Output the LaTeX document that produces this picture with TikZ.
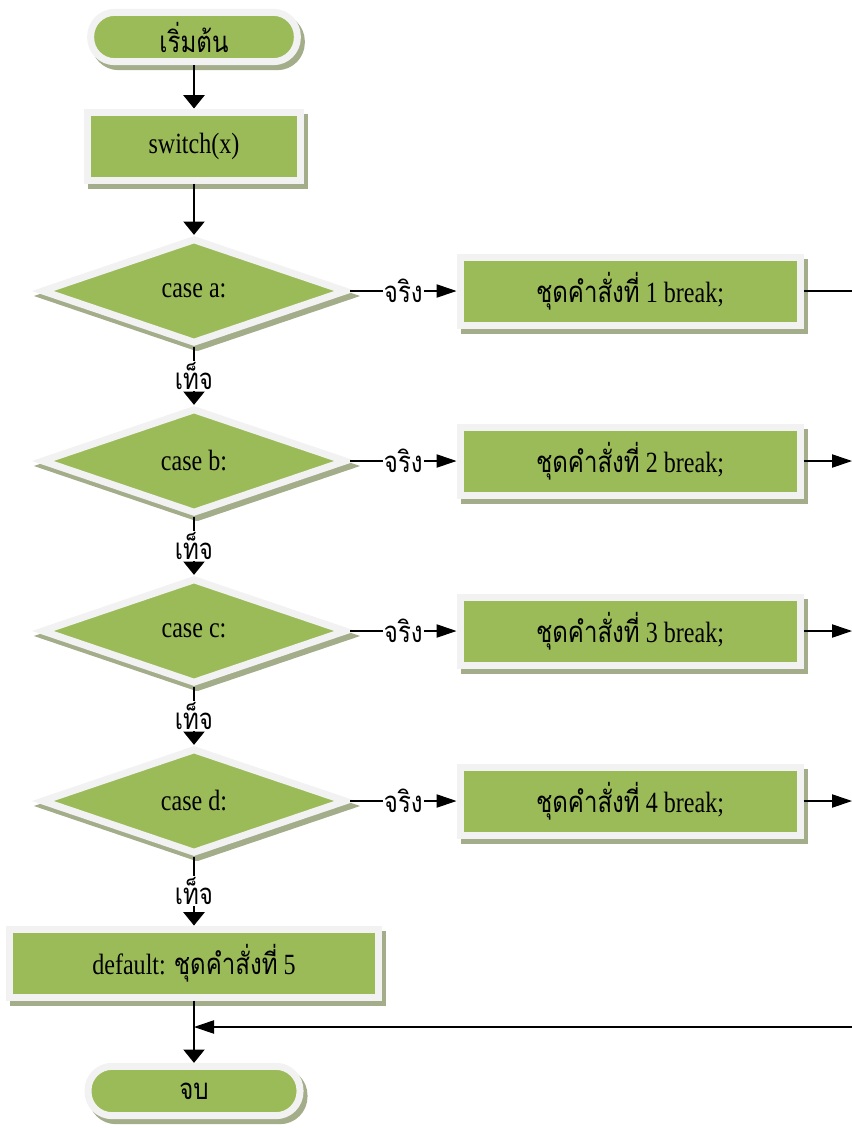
\documentclass[tikz,border=0pt]{standalone}
\usepackage{fontspec}
\setmainfont{Liberation Serif}[FakeStretch=0.82]
\newfontfamily\thaifont[Script=Thai,FakeStretch=0.82]{Loma}
\newcommand{\thtxt}[1]{{\thaifont #1}}
\usetikzlibrary{shapes.geometric, arrows.meta, shadows}
\definecolor{boxgreen}{RGB}{155,187,89}
\definecolor{rimgray}{RGB}{242,242,242}
\definecolor{shadegreen}{RGB}{163,173,138}

\begin{document}
\begin{tikzpicture}[
    x=0.75pt, y=-0.75pt,
    base/.style={draw=rimgray, line width=5.25pt, fill=boxgreen, inner sep=0pt,
      font=\fontsize{22}{24}\selectfont,
      drop shadow={shadow xshift=3pt, shadow yshift=-3.75pt, draw=shadegreen,
        fill=shadegreen, opacity=1, line width=5.25pt}},
    term/.style={base, rectangle, rounded corners=18pt, minimum height=37pt},
    proc/.style={base, rectangle, minimum height=51pt},
    cond/.style={base, diamond, minimum width=229pt, minimum height=79pt,
      drop shadow={shadow xshift=1.5pt, shadow yshift=-3.75pt, draw=shadegreen,
        fill=shadegreen, opacity=1, line width=5.25pt}},
    vline/.style={draw, line width=0.8pt, -{Triangle[width=16pt,length=10pt]}},
    hline/.style={draw, line width=0.8pt, -{Triangle[width=10pt,length=15pt]}},
    lbl/.style={fill=white, inner sep=1pt, font=\fontsize{22}{24}\selectfont}
  ]
  \useasboundingbox (0,0) rectangle (852,1128);

  \node[term, minimum width=155pt] (start) at (194,37) {\thtxt{เริ่มต้น}};
  \node[proc, minimum width=160pt] (sw) at (194,146) {switch(x)};

  \node[cond] (ca) at (194,291) {case a:};
  \node[cond] (cb) at (194,461) {case b:};
  \node[cond] (cc) at (194,631) {case c:};
  \node[cond] (cd) at (194,801) {case d:};

  \node[proc, minimum width=255pt] (s1) at (630,291) {\thtxt{ชุดคำสั่งที่} 1 break;};
  \node[proc, minimum width=255pt] (s2) at (630,461) {\thtxt{ชุดคำสั่งที่} 2 break;};
  \node[proc, minimum width=255pt] (s3) at (630,631) {\thtxt{ชุดคำสั่งที่} 3 break;};
  \node[proc, minimum width=255pt] (s4) at (630,801) {\thtxt{ชุดคำสั่งที่} 4 break;};

  \node[proc, minimum width=277pt] (dflt) at (194,963) {default: \thtxt{ชุดคำสั่งที่} 5};
  \node[term, minimum width=159pt] (stop) at (194,1091) {\thtxt{จบ}};

  \coordinate (r1) at (852,291);
  \coordinate (r2) at (852,461);
  \coordinate (r3) at (852,631);
  \coordinate (r4) at (852,801);
  \coordinate (rb) at (852,1027);

  \draw[vline] (start) -- (sw);
  \draw[vline] (sw) -- (ca);
  \draw[vline] (ca) -- node[lbl] {\thtxt{เท็จ}} (cb);
  \draw[vline] (cb) -- node[lbl] {\thtxt{เท็จ}} (cc);
  \draw[vline] (cc) -- node[lbl] {\thtxt{เท็จ}} (cd);
  \draw[vline] (cd) -- node[lbl] {\thtxt{เท็จ}} (dflt);
  \draw[vline] (dflt) -- (stop);

  \draw[hline] (ca) -- node[lbl] {\thtxt{จริง}} (s1);
  \draw[hline] (cb) -- node[lbl] {\thtxt{จริง}} (s2);
  \draw[hline] (cc) -- node[lbl] {\thtxt{จริง}} (s3);
  \draw[hline] (cd) -- node[lbl] {\thtxt{จริง}} (s4);

  \draw[line width=0.8pt] (s1) -- (r1);
  \draw[hline] (s2) -- (r2);
  \draw[hline] (s3) -- (r3);
  \draw[hline] (s4) -- (r4);
  \draw[hline] (rb) -- (dflt.south |- rb);
\end{tikzpicture}
\end{document}
